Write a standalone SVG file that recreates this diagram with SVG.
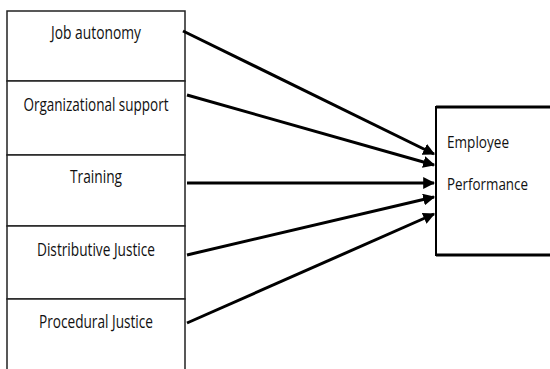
<svg xmlns="http://www.w3.org/2000/svg" width="550" height="369" viewBox="0 0 550 369">
<style>
.box{fill:#fff;stroke:#222;stroke-width:1.5}
.t{font-family:"Open Sans","Liberation Sans",sans-serif;font-size:18px;fill:#111}
.r{font-size:16px}
.c{text-anchor:middle}
.e{stroke:#000;stroke-width:3;fill:none;marker-end:url(#ah)}
</style>
<defs>
<marker id="ah" viewBox="0 0 10 10" refX="9" refY="5" markerWidth="4" markerHeight="4" orient="auto" markerUnits="strokeWidth">
<path d="M0,0 L10,5 L0,10 Z" fill="#000"/>
</marker>
</defs>
<rect width="550" height="369" fill="#fff"/>
<g id="n1"><rect class="box" x="7" y="11" width="178" height="70"/><text class="t c" x="96" y="39" textLength="90" lengthAdjust="spacingAndGlyphs">Job autonomy</text></g>
<g id="n2"><rect class="box" x="7" y="81" width="178" height="74"/><text class="t c" x="96" y="111" textLength="145" lengthAdjust="spacingAndGlyphs">Organizational support</text></g>
<g id="n3"><rect class="box" x="7" y="155" width="178" height="71"/><text class="t c" x="96" y="183" textLength="52" lengthAdjust="spacingAndGlyphs">Training</text></g>
<g id="n4"><rect class="box" x="7" y="226" width="178" height="73"/><text class="t c" x="96" y="256" textLength="118" lengthAdjust="spacingAndGlyphs">Distributive Justice</text></g>
<g id="n5"><path class="box" d="M7,369 V299 H185 V369"/><text class="t c" x="96" y="328" textLength="114" lengthAdjust="spacingAndGlyphs">Procedural Justice</text></g>
<g id="n6">
<rect x="436" y="107" width="114" height="148" fill="#fff" stroke="none"/>
<path d="M550,107 H436 V255 H550" fill="none" stroke="#000" stroke-width="2"/>
<path d="M436,107 H550 M436,255 H550" stroke="#000" stroke-width="3"/>
<text class="t r" x="447" y="148" textLength="62" lengthAdjust="spacingAndGlyphs">Employee</text>
<text class="t r" x="447" y="190" textLength="81" lengthAdjust="spacingAndGlyphs">Performance</text>
</g>
<g id="connectors">
<line class="e" x1="183" y1="31" x2="434" y2="154"/>
<line class="e" x1="187" y1="95" x2="434" y2="165"/>
<line class="e" x1="187" y1="183" x2="434" y2="183"/>
<line class="e" x1="187" y1="255" x2="434" y2="197"/>
<line class="e" x1="187" y1="323" x2="434" y2="214"/>
</g>
</svg>
